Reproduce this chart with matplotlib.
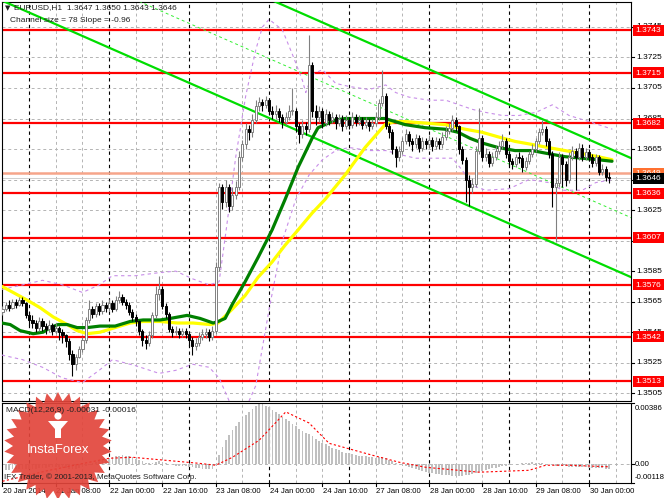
import numpy as np
import matplotlib
matplotlib.use("Agg")
import matplotlib.pyplot as plt
from matplotlib.patches import Polygon, Circle, Rectangle

plt.rcParams['font.family'] = ['Liberation Sans', 'DejaVu Sans']

# ---------------- data (prices in pips above 1.3000) ----------------
first_open_pips = 558
close_pips = [
    560, 563, 561, 565, 563, 566, 564, 556, 553,
    551, 548, 552, 549, 547, 550, 546, 548, 545, 543,
    539, 531, 524, 529, 534, 540, 553,
    560, 557, 562, 559, 563, 561, 564, 560, 566, 568, 565,
    563, 558, 555, 552, 546, 540, 538, 543,
    556, 570, 573, 562, 557,
    547, 545, 546, 544, 546, 544,
    540, 536, 538, 542, 544, 545, 542, 546,
    588, 640, 630, 640, 628, 635, 640,
    660, 668, 678, 676, 684, 693, 696, 694, 697,
    690, 688, 690, 686, 683, 686, 690, 690, 680, 675, 680, 678,
    720, 690, 686, 690, 682, 688, 684, 686,
    682, 685, 680, 684, 681, 686, 683, 684, 681, 683, 680, 682, 686,
    695, 700, 680, 676, 665, 660, 664, 670, 675,
    670, 668, 672, 666, 670, 668, 671, 667, 670, 668, 673, 677, 679, 684, 680,
    665, 658, 645, 640, 642,
    664, 672, 660, 662, 656, 660, 664, 667, 670,
    662, 657, 655, 660, 659, 653, 657, 662, 665, 670,
    676, 678, 670, 662, 640, 643, 660, 655, 645, 660,
    664, 660, 666, 660, 663, 660, 656, 660, 650, 652, 647, 646]
high_pips = [
    562, 565, 566, 567, 567, 568, 568, 565, 558,
    556, 553, 555, 554, 551, 553, 551, 551, 549, 547,
    544, 541, 533, 531, 536, 542, 555,
    566, 562, 564, 564, 566, 565, 567, 566, 569, 572, 570,
    567, 565, 560, 557, 553, 547, 543, 546,
    558, 575, 582, 575, 564,
    558, 549, 549, 548, 548, 548,
    546, 542, 541, 545, 547, 548, 547, 549,
    591, 643, 642, 645, 642, 640, 644,
    664, 671, 682, 681, 688, 697, 699, 698, 700,
    698, 693, 694, 692, 688, 689, 694, 705, 692, 682, 684, 683,
    740, 722, 694, 693, 692, 691, 690, 689,
    688, 688, 687, 687, 686, 689, 688, 687, 686, 686, 685, 685, 689,
    698, 717, 702, 682, 678, 667, 667, 673, 678,
    677, 672, 675, 674, 673, 672, 674, 673, 673, 672, 676, 680, 682, 687, 686,
    681, 667, 660, 648, 646,
    667, 692, 674, 666, 664, 663, 667, 670, 675,
    672, 664, 659, 662, 663, 661, 660, 664, 668, 672,
    679, 684, 680, 672, 664, 646, 663, 662, 657, 663,
    667, 666, 669, 668, 666, 665, 662, 662, 661, 655, 654, 650]
low_pips = [
    556, 559, 559, 560, 561, 562, 562, 554, 550,
    548, 545, 546, 546, 544, 545, 543, 544, 540, 538,
    535, 527, 516, 520, 528, 532, 538,
    551, 554, 555, 556, 557, 558, 559, 558, 559, 564, 563,
    560, 556, 552, 549, 543, 536, 534, 536,
    541, 554, 566, 560, 554,
    545, 542, 543, 541, 542, 541,
    536, 530, 533, 536, 540, 541, 539, 540,
    544, 585, 626, 627, 624, 625, 632,
    638, 657, 665, 671, 673, 682, 690, 690, 692,
    687, 685, 685, 683, 679, 681, 684, 687, 676, 669, 672, 674,
    676, 686, 681, 683, 679, 680, 681, 682,
    678, 680, 677, 678, 678, 679, 680, 681, 678, 679, 677, 678, 680,
    684, 693, 678, 672, 662, 653, 657, 662, 668,
    667, 664, 666, 663, 664, 665, 666, 664, 665, 665, 666, 671, 675, 677, 677,
    662, 655, 630, 628, 636,
    640, 662, 657, 657, 653, 654, 658, 662, 665,
    659, 654, 652, 653, 656, 650, 651, 655, 660, 663,
    668, 674, 667, 659, 627, 604, 640, 640, 641, 643,
    658, 638, 658, 657, 658, 657, 653, 654, 648, 648, 644, 643]

# moving averages sampled along the chart (bar position, price)
ma_fast_bar = [-0.2, 2.3, 5.3, 9.2, 12.2, 14.3, 16.7, 19.4, 22.4, 25.4, 29.3, 33.8, 38.3, 42.2,
               47.3, 50.3, 55.4, 59.3, 63.2, 64.7, 66.8, 68.9, 72.8, 76.7, 80.9, 84.8, 88.7,
               92.9, 94.7, 96.8, 99.8, 102.8, 108.8, 114.8, 120.8, 126.8, 132.8, 136.7, 140.3,
               143.9, 148.7, 153.8, 158.9, 163.7, 168.8, 173.9, 178.7, 182.9]
ma_fast_val = [1.3551, 1.3550, 1.3546, 1.3544, 1.3545, 1.3548, 1.3550, 1.3550, 1.3548, 1.3548,
               1.3549, 1.3549, 1.3552, 1.3553, 1.3553, 1.3554, 1.3556, 1.3554, 1.3551, 1.3552,
               1.3554, 1.3563, 1.3578, 1.3594, 1.3612, 1.3632, 1.3653, 1.3672, 1.3679, 1.3681,
               1.3684, 1.3685, 1.3685, 1.3685, 1.3681, 1.3679, 1.3678, 1.3676, 1.3672, 1.3669,
               1.3666, 1.3664, 1.3664, 1.3662, 1.3660, 1.3659, 1.3658, 1.3657]
ma_slow_bar = [-0.2, 3.2, 7.4, 11.3, 15.2, 19.4, 22.4, 25.4, 29.3, 33.8, 38.3, 42.2, 47.3, 52.4,
               57.2, 62.3, 64.7, 68.9, 72.8, 76.7, 80.9, 84.8, 88.7, 92.9, 96.8, 102.8, 108.8,
               114.8, 117.8, 120.8, 126.8, 132.8, 138.8, 143.9, 148.7, 153.8, 158.9, 163.7,
               168.8, 173.9, 178.7, 182.9]
ma_slow_val = [1.3575, 1.3571, 1.3566, 1.3561, 1.3555, 1.3550, 1.3546, 1.3544, 1.3545, 1.3548,
               1.3551, 1.3552, 1.3552, 1.3551, 1.3551, 1.3550, 1.3551, 1.3560, 1.3569, 1.3581,
               1.3591, 1.3602, 1.3612, 1.3623, 1.3632, 1.3648, 1.3666, 1.3681, 1.3683, 1.3683,
               1.3682, 1.3681, 1.3678, 1.3676, 1.3673, 1.3670, 1.3668, 1.3666, 1.3664, 1.3662,
               1.3660, 1.3658]

# purple envelopes (bar position, price)
band_up_bar = [-0.2, 6, 12, 18, 24, 29, 33, 40, 47, 52, 57, 62, 65, 67, 70, 73, 76, 78, 80, 84,
               87, 90, 91, 93, 96, 100, 104, 110, 115, 118, 122, 128, 133, 137, 141, 145, 150,
               155, 160, 165, 170, 176, 183]
band_up_val = [1.3573, 1.3576, 1.3579, 1.3576, 1.3571, 1.3576, 1.3582, 1.3582, 1.3584, 1.3585,
               1.3580, 1.3576, 1.3578, 1.3610, 1.3660, 1.3700, 1.3730, 1.3745, 1.3750, 1.3743,
               1.3727, 1.3710, 1.3702, 1.3714, 1.3717, 1.3708, 1.3706, 1.3704, 1.3707, 1.3702,
               1.3699, 1.3697, 1.3697, 1.3694, 1.3691, 1.3689, 1.3687, 1.3687, 1.3689, 1.3694,
               1.3687, 1.3683, 1.3678]
band_dn_bar = [-0.2, 6, 12, 18, 24, 29, 33, 40, 47, 52, 57, 62, 65, 68, 72, 76, 80, 84, 88, 92,
               96, 100, 104, 110, 115, 120, 124, 130, 135, 138, 141, 145, 152, 158, 164, 168,
               174, 178, 183]
band_dn_val = [1.3530, 1.3527, 1.3522, 1.3515, 1.3512, 1.3520, 1.3527, 1.3523, 1.3518, 1.3520,
               1.3524, 1.3522, 1.3515, 1.3500, 1.3490, 1.3510, 1.3560, 1.3605, 1.3632, 1.3648,
               1.3658, 1.3664, 1.3666, 1.3664, 1.3664, 1.3661, 1.3659, 1.3659, 1.3659, 1.3651,
               1.3641, 1.3638, 1.3639, 1.3645, 1.3643, 1.3638, 1.3638, 1.3643, 1.3645]

# MACD main (histogram) per bar, in 1e-5 units
macd_main = [
    -38, -36, -34, -32, -30, -30, -28, -30, -32,
    -30, -28, -26, -24, -22, -20, -20, -18, -20, -22, -25, -28,
    -30, -28, -24, -18, -10, -2, 5, 12,
    20, 28, 34, 40, 45, 50, 55, 57, 55, 50, 44, 36, 28,
    18, 10, 5, 8, 15, 20, 16,
    8, 2, -4, -8, -10, -12, -14, -16, -20, -24, -26, -28, -30, -32, -30,
    -5, 60, 110, 150, 185, 215, 240, 265, 290, 310, 330, 350, 370, 386,
    380, 370, 360, 345, 330, 315, 300, 285, 270, 255, 240, 225, 210, 200, 190, 175,
    160, 145, 135, 125, 115, 105,
    95, 88, 80, 72, 68, 62, 58, 55, 52, 50, 48, 45, 42,
    45, 48, 40, 30, 20, 10, 2, -5, -12, -18, -25, -30, -36, -42,
    -48, -52, -56, -60, -64, -66, -68, -70, -72, -75, -76, -74, -70, -65, -60,
    -55, -48, -42, -36, -30, -26, -22, -18, -14, -10, -6,
    -3, 0, 2, 5, 8, 10, 12, 10, 8, 5, 3, 0,
    -5, -8, -10, -12, -14, -15, -16, -18, -18, -20, -20, -22, -22, -24, -25, -26, -28, -31]
signal_bar = [0, 14, 32, 39, 49, 59, 64, 69, 77, 85, 92, 98, 111, 119, 127, 143, 158, 163, 170, 182]
signal_val = [-107, -38, 38, 44, 25, 6, -6, 44, 151, 330, 260, 132, 57, 13, -19, -50, -38, -6, -6, -16]

levels_red = [1.3743, 1.3715, 1.3682, 1.3636, 1.3607, 1.3576, 1.3542, 1.3513]
level_orange = 1.3649
price_now = 1.3646
price_ticks = [1.3505, 1.3525, 1.3545, 1.3565, 1.3585, 1.3605, 1.3625, 1.3645, 1.3665,
               1.3685, 1.3705, 1.3725, 1.3745]
macd_ticks = [0.00386, 0.0, -0.00118]
macd_tick_labels = ["0.00386", "0.00", "-0.00118"]

channel_slope_pips = -0.96
channel_size_pips = 78
channel_upper_end = 1.36654   # upper channel line at last bar

time_labels = ["20 Jan 2014", "21 Jan 08:00", "22 Jan 00:00", "22 Jan 16:00", "23 Jan 08:00",
               "24 Jan 00:00", "24 Jan 16:00", "27 Jan 08:00", "28 Jan 00:00", "28 Jan 16:00",
               "29 Jan 08:00", "30 Jan 00:00"]
time_label_bars = [0, 16, 32, 48, 64, 80, 96, 112, 128, 144, 160, 176]
day_sep_bars = [8, 32, 56, 80, 104, 128, 152, 176]

# ---------------- derived ----------------
BASE = 1.3
c = BASE + np.array(close_pips) / 1e4
h = BASE + np.array(high_pips) / 1e4
l = BASE + np.array(low_pips) / 1e4
o = np.concatenate([[BASE + first_open_pips / 1e4], c[:-1]])
n = len(c)
bars = np.arange(n)

W, H = 664, 498
fig = plt.figure(figsize=(W / 100, H / 100), dpi=100)
fig.patch.set_facecolor('white')

def frac(x0, y0, x1, y1):
    return [x0 / W, 1 - y1 / H, (x1 - x0) / W, (y1 - y0) / H]

ax = fig.add_axes(frac(2, 2, 631, 401))
axm = fig.add_axes(frac(2, 403, 631, 483))

xmin, xmax = -0.15, 188.6
for a in (ax, axm):
    a.set_xlim(xmin, xmax)
    a.set_xticks([])
    a.set_yticks([])
    for s in a.spines.values():
        s.set_color('black')
        s.set_linewidth(0.8)
ymin, ymax = 1.34999, 1.376135
ax.set_ylim(ymin, ymax)
mmin, mmax = -0.00118, 0.00386
axm.set_ylim(mmin, mmax)

def ypix_main(p):
    return 2 + (ymax - p) / (ymax - ymin) * 399

def ypix_macd(v):
    return 403 + (mmax - v) / (mmax - mmin) * 80

# grid
grid_kw = dict(color='#b4b4b4', lw=0.7, ls=(0, (3, 3)), zorder=0)
for b in range(0, 190, 8):
    if b in day_sep_bars:
        continue
    ax.axvline(b, **grid_kw)
    axm.axvline(b, **grid_kw)
for b in day_sep_bars:
    ax.axvline(b, color='black', lw=0.8, ls=(0, (3, 3)), zorder=0.5)
    axm.axvline(b, color='black', lw=0.8, ls=(0, (3, 3)), zorder=0.5)
for p in price_ticks:
    ax.axhline(p, **grid_kw)
axm.axhline(0, **grid_kw)

# levels
for lv in levels_red:
    ax.axhline(lv, color='#ff0000', lw=1.6, zorder=2)
ax.axhline(level_orange, color='#f6a58a', lw=1.8, zorder=2)
ax.axhline(price_now, color='#c8c8c8', lw=0.6, zorder=1.5)

# regression channel
xs = np.array([-5.0, 195.0])
upper = channel_upper_end + (xs - (n - 1)) * channel_slope_pips / 1e4
lower = upper - channel_size_pips / 1e4
mid = (upper + lower) / 2
ax.plot(xs, upper, color='#00dd00', lw=1.6, zorder=3)
ax.plot(xs, lower, color='#00dd00', lw=1.6, zorder=3)
ax.plot(xs, mid, color='#33ee33', lw=0.7, ls=(0, (3, 3)), zorder=3)

# envelopes
ax.plot(band_up_bar, band_up_val, color='#c88ee8', lw=0.8, ls=(0, (3, 3)), zorder=3)
ax.plot(band_dn_bar, band_dn_val, color='#c88ee8', lw=0.8, ls=(0, (3, 3)), zorder=3)

# moving averages
ax.plot(ma_slow_bar, ma_slow_val, color='#ffff00', lw=2.3, zorder=4, solid_capstyle='round')
ax.plot(ma_fast_bar, ma_fast_val, color='#008000', lw=2.3, zorder=5, solid_capstyle='round')

# candles
bull = c >= o
ax.vlines(bars[bull], l[bull], h[bull], color='#808080', lw=0.8, zorder=6)
ax.vlines(bars[~bull], l[~bull], h[~bull], color='black', lw=0.8, zorder=6)
bw = 0.62
body_lo = np.minimum(o, c)
body_h = np.maximum(np.abs(c - o), 0.00003)
ax.bar(bars[bull], body_h[bull], bottom=body_lo[bull], width=bw, facecolor='white',
       edgecolor='#808080', lw=0.7, zorder=7)
ax.bar(bars[~bull], body_h[~bull], bottom=body_lo[~bull], width=bw, facecolor='black',
       edgecolor='black', lw=0.7, zorder=7)

# overlay axes in pixel coordinates for scale labels and logo
lax = fig.add_axes([0, 0, 1, 1], facecolor='none')
lax.set_xlim(0, W)
lax.set_ylim(H, 0)
lax.axis('off')

# right price scale
for p in price_ticks:
    y = ypix_main(p)
    lax.plot([631, 634], [y, y], color='black', lw=0.8)
    lax.text(636, y, f"{p:.4f}", ha='left', va='center', fontsize=6, color='black', zorder=1)

def box_label(y, text, fc, z):
    lax.add_patch(Rectangle((632.5, y - 5.5), 31, 11, facecolor=fc, edgecolor='none', zorder=z))
    lax.text(648, y + 0.3, text, ha='center', va='center', fontsize=6, color='white', zorder=z + 0.5)

for lv in levels_red:
    box_label(ypix_main(lv), f"{lv:.4f}", '#ff0000', 5)
box_label(ypix_main(price_now) - 4.5, f"{level_orange:.4f}", '#ff7030', 6)
box_label(ypix_main(price_now), f"{price_now:.4f}", '#000000', 7)

# MACD scale
for v, s in zip(macd_ticks, macd_tick_labels):
    y = ypix_macd(v)
    lax.plot([631, 634], [y, y], color='black', lw=0.8)
    yy = min(max(y, 408), 477)
    lax.text(635, yy, s, ha='left', va='center', fontsize=5.6, color='black')

# header text
lax.text(5, 8, "\u25BC", fontsize=5, ha='left', va='center', color='#202020', family=['DejaVu Sans'])
lax.text(14, 8, "EURUSD,H1  1.3647 1.3650 1.3643 1.3646", fontsize=6, ha='left', va='center',
         color='#202020')
lax.text(10, 20, "Channel size = 78 Slope = -0.96", fontsize=6, ha='left', va='center',
         color='#202020')

# MACD panel
axm.bar(bars, np.array(macd_main) / 1e5, width=0.55, color='#c0c0c0', zorder=2)
axm.plot(signal_bar, np.array(signal_val) / 1e5, color='#ff0000', lw=0.8, ls=(0, (2, 2)), zorder=3)

# time labels
for b, s in zip(time_label_bars, time_labels):
    xp = 2 + (b - xmin) / (xmax - xmin) * 629
    lax.plot([xp, xp], [483, 486], color='black', lw=0.8)
    lax.text(xp + 0.5, 491, s, ha='left', va='center', fontsize=5.6)

# InstaForex logo (star burst)
cx, cy = 58, 446
nsp = 30
ang = np.linspace(0, 2 * np.pi, 2 * nsp, endpoint=False) - np.pi / 2
rad = np.where(np.arange(2 * nsp) % 2 == 0, 54, 45)
star = np.column_stack([cx + rad * np.cos(ang), cy + rad * np.sin(ang)])
lax.add_patch(Polygon(star, closed=True, facecolor='#e2453b', edgecolor='none', alpha=0.92, zorder=8))
lax.add_patch(Circle((cx, 416), 3.6, facecolor='white', edgecolor='none', zorder=9))
lax.add_patch(Polygon([[cx - 10, 421], [cx + 10, 421], [cx + 3, 429], [cx + 3, 438], [cx - 3, 438],
                       [cx - 3, 429]], closed=True, facecolor='white', edgecolor='none', zorder=9))
lax.text(cx, 450, "InstaForex", color='white', fontsize=9.5, ha='center', va='center', zorder=10)

# panel captions
lax.text(6, 410, "MACD(12,26,9) -0.00031 -0.00016", fontsize=6, ha='left', va='center',
         color='#202020', zorder=11)
lax.text(4, 477, "IFX Trader, \u00A9 2001-2013, MetaQuotes Software Corp.", color='#202020',
         fontsize=5.8, ha='left', va='center', zorder=11)

fig.savefig("out.png", dpi=100)
